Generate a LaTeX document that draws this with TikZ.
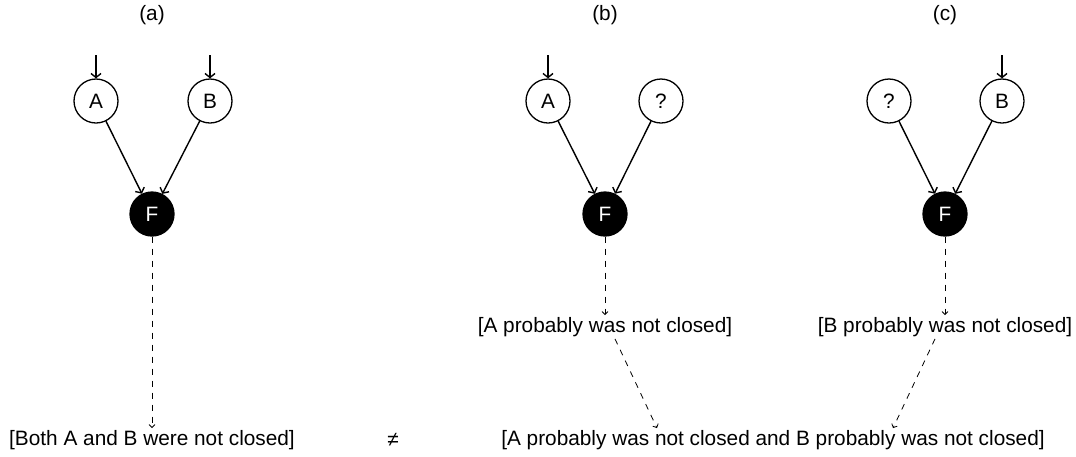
\documentclass[tikz,border=0pt]{standalone}
\usepackage{fontspec}
\setmainfont{Liberation Sans}
\usetikzlibrary{arrows.meta}
\begin{document}
\begin{tikzpicture}[x=1pt,y=-1pt,
  every node/.style={font=\fontsize{20.8}{25}\selectfont},
  state/.style={circle,draw,line width=1.3pt,minimum size=44pt,inner sep=0pt},
  fstate/.style={state,fill=black,text=white},
  lbl/.style={inner sep=2pt},
  edge/.style={line width=1.4pt,-{Straight Barb[length=4pt,width=10pt]}},
  dedge/.style={line width=0.8pt,dash pattern=on 6pt off 6pt,-{Straight Barb[length=3pt,width=6pt]}}]
\useasboundingbox (0,0) rectangle (1076,456);

% (a)
\node (la) at (152,15) {(a)};
\node[state] (aA) at (96,101) {A};
\node[state] (aB) at (210,101) {B};
\node[fstate] (aF) at (152,214) {F};
\coordinate (aAin) at (96,55);
\coordinate (aBin) at (210,55);
\draw[edge] (aAin) -- (aA);
\draw[edge] (aBin) -- (aB);
\draw[edge] (aA) -- (aF);
\draw[edge] (aB) -- (aF);
\node[lbl] (Ta) at (152,440) {[Both A and B were not closed]};
\draw[dedge] (aF) -- (Ta);

% (b)
\node (lb) at (605,15) {(b)};
\node[state] (bA) at (548,101) {A};
\node[state] (bQ) at (661,101) {?};
\node[fstate] (bF) at (605,214) {F};
\coordinate (bAin) at (548,55);
\draw[edge] (bAin) -- (bA);
\draw[edge] (bA) -- (bF);
\draw[edge] (bQ) -- (bF);
\node[lbl] (Tb) at (605,327) {[A probably was not closed]};
\draw[dedge] (bF) -- (Tb);

% (c)
\node (lc) at (945,15) {(c)};
\node[state] (cQ) at (889,101) {?};
\node[state] (cB) at (1002,101) {B};
\node[fstate] (cF) at (945,214) {F};
\coordinate (cBin) at (1002,55);
\draw[edge] (cBin) -- (cB);
\draw[edge] (cQ) -- (cF);
\draw[edge] (cB) -- (cF);
\node[lbl] (Tc) at (945,327) {[B probably was not closed]};
\draw[dedge] (cF) -- (Tc);

% bottom
\node[lbl] (T2) at (773,440) {[A probably was not closed and B probably was not closed]};
\node (ne) at (393,440) {≠};
\draw[dedge] ([xshift=10pt]Tb.south) -- ([xshift=-116pt]T2.north);
\draw[dedge] ([xshift=-10pt]Tc.south) -- ([xshift=120pt]T2.north);
\end{tikzpicture}
\end{document}
